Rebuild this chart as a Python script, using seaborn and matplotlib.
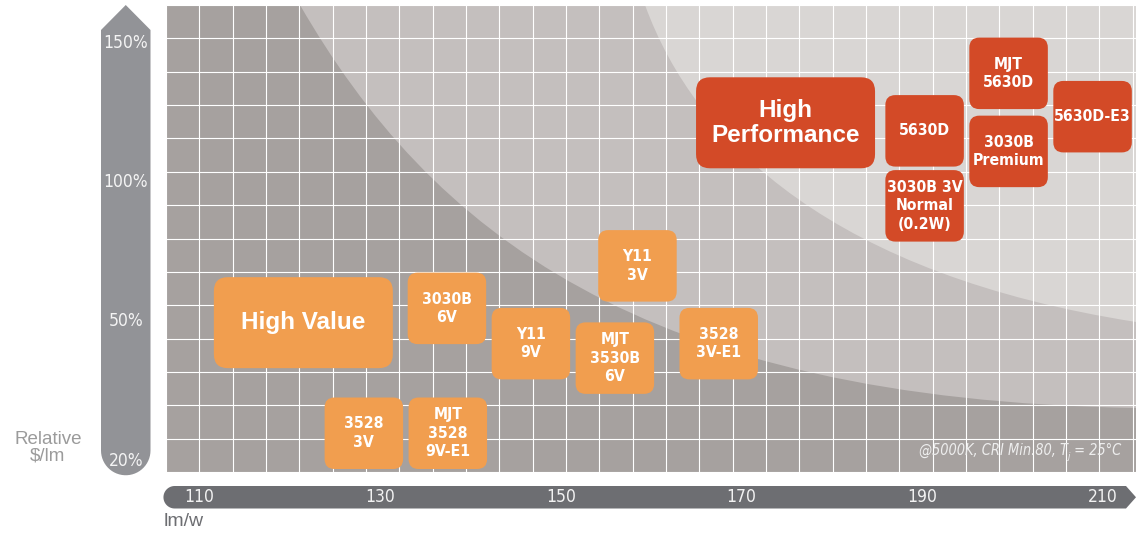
import numpy as np
import pandas as pd
import matplotlib
matplotlib.use("Agg")
import matplotlib.pyplot as plt
from matplotlib.path import Path
from matplotlib.patches import PathPatch
from matplotlib.textpath import TextPath
from matplotlib.font_manager import FontProperties
from matplotlib import font_manager
import seaborn as sns

# LED packages: efficacy (lm/W) vs relative cost ($/lm)
names = ["3528\n3V", "MJT\n3528\n9V-E1", "3030B\n6V", "Y11\n9V", "MJT\n3530B\n6V",
         "Y11\n3V", "3528\n3V-E1", "5630D", "3030B 3V\nNormal\n(0.2W)", "MJT\n5630D",
         "3030B\nPremium", "5630D-E3"]
efficacy = [128.2, 137.5, 137.4, 146.7, 156.0, 158.5, 167.5, 190.3, 190.3, 199.6, 199.6, 208.9]
rel_cost = [25.5, 25.5, 53.8, 44.7, 41.6, 69.1, 44.7, 117.7, 90.7, 138.4, 110.3, 122.8]
tier = ["High Value"] * 7 + ["High Performance"] * 5

# group labels
group_names = ["High Value", "High\nPerformance"]
group_tier = ["High Value", "High Performance"]
group_x = [121.5, 174.9]
group_y = [49.2, 120.6]

x_ticks = [110, 130, 150, 170, 190, 210]
y_ticks = [150, 100, 50, 20]
y_labels = ["150%", "100%", "50%", "20%"]

palette = {"High Value": "#F19E4F", "High Performance": "#D34A27"}

sns.set_style("darkgrid", rc={"axes.facecolor": "#A6A19F", "grid.color": "white",
                              "grid.linewidth": 1.0, "axes.edgecolor": "none"})
plt.rcParams["font.family"] = ["Liberation Sans", "DejaVu Sans"]


# look for a condensed face (the original uses a condensed grotesque)
def _w(f):
    return f.weight if isinstance(f.weight, (int, float)) else font_manager.weight_dict.get(f.weight, 400)


def _cond(f):
    s, n = str(f.stretch).lower(), f.name.lower()
    return ("condensed" in s or "narrow" in n or "condensed" in n) and "extra" not in s and "ultra" not in s


cond = [f for f in font_manager.fontManager.ttflist if _cond(f)]
fam = None
for pref in ["Liberation Sans Narrow", "DejaVu Sans", "Roboto", "Noto Sans", "Open Sans", "Lato", "Inter"]:
    hits = [f for f in cond if f.name.startswith(pref)]
    if hits:
        fam = hits
        break


def cface(bold=False, italic=False):
    if not fam:
        return FontProperties(family="Liberation Sans", weight="bold" if bold else "normal",
                              style="italic" if italic else "normal")
    c = sorted(fam, key=lambda f: (abs(_w(f) - (700 if bold else 400)),
                                   (f.style != "normal") != italic,
                                   str(f.stretch).lower() != "condensed"))
    return FontProperties(fname=c[0].fname)


def fit(text, fp, size, target_px):
    w = TextPath((0, 0), text, size=size, prop=fp).get_extents().width * 100 / 72
    return size * min(1.0, target_px / w) if w > 0 else size


fp_bold = cface(bold=True)
fp_reg = cface()
fp_it = cface(italic=True)
box_size = fit("5630D-E3", fp_bold, 13.5, 75)
xt_size = fit("190", fp_reg, 14, 27)
yt_size = fit("150%", fp_reg, 13.5, 42)
fn_size = fit("@5000K, CRI Min.80, T", fp_it, 11, 150)

W, H = 1136, 535
fig = plt.figure(figsize=(W / 100, H / 100), dpi=100)
pos = [166 / W, 1 - 472 / H, 970 / W, 467 / H]

# decoration layer in pixel coordinates
deco = fig.add_axes([0, 0, 1, 1], zorder=-2)
deco.set_xlim(0, W)
deco.set_ylim(H, 0)
deco.axis("off")

th = np.linspace(0, np.pi, 30)
yarrow = [(101, 30), (125.75, 5), (150.5, 30), (150.5, 450.5)]
yarrow += list(zip(125.75 + 24.75 * np.cos(th), 450.5 + 24.75 * np.sin(th)))
deco.add_patch(plt.Polygon(yarrow, closed=True, fc="#929397", ec="none"))

th2 = np.linspace(np.pi / 2, 3 * np.pi / 2, 30)
xarrow = [(174.7, 486), (1126, 486), (1136, 497.25), (1126, 508.5)]
xarrow += list(zip(174.7 + 11.25 * np.cos(th2), 497.25 + 11.25 * np.sin(th2)))
deco.add_patch(plt.Polygon(xarrow, closed=True, fc="#6D6E72", ec="none"))

deco.text(48, 448, "Relative\n$/lm", ha="center", va="center", color="#9B9B9B",
          fontsize=13.5, linespacing=1.0)
deco.text(164, 522, "lm/w", ha="left", va="center", color="#6D6E72", fontsize=14)

# background grid with shaded zones
bg = fig.add_axes(pos, zorder=-1)
bg.set_xlim(0, 970)
bg.set_ylim(467, 0)
bg.set_xticks(np.arange(0, 971, 33.33))
bg.set_yticks(np.arange(0, 468, 33.36))
bg.tick_params(length=0, labelbottom=False, labelleft=False)
zone1 = Path([(134, 0), (264, 225), (474, 395), (970, 403), (990, 403), (990, -10), (134, -10), (134, 0)],
             [Path.MOVETO, Path.CURVE4, Path.CURVE4, Path.CURVE4, Path.LINETO, Path.LINETO,
              Path.LINETO, Path.CLOSEPOLY])
zone2 = Path([(479, 0), (530, 140), (670, 270), (970, 317), (990, 317), (990, -10), (479, -10), (479, 0)],
             [Path.MOVETO, Path.CURVE4, Path.CURVE4, Path.CURVE4, Path.LINETO, Path.LINETO,
              Path.LINETO, Path.CLOSEPOLY])
bg.add_patch(PathPatch(zone1, fc="#C4BFBE", ec="none", zorder=0.2))
bg.add_patch(PathPatch(zone2, fc="#D9D6D4", ec="none", zorder=0.3))


def rounded_box(hw, hh, r):
    v = [(-hw + r, -hh), (hw - r, -hh), (hw, -hh), (hw, -hh + r), (hw, hh - r), (hw, hh),
         (hw - r, hh), (-hw + r, hh), (-hw, hh), (-hw, hh - r), (-hw, -hh + r), (-hw, -hh),
         (-hw + r, -hh), (-hw + r, -hh)]
    c = [Path.MOVETO, Path.LINETO, Path.CURVE3, Path.CURVE3, Path.LINETO, Path.CURVE3, Path.CURVE3,
         Path.LINETO, Path.CURVE3, Path.CURVE3, Path.LINETO, Path.CURVE3, Path.CURVE3, Path.CLOSEPOLY]
    return Path(v, c)


small_box = rounded_box(0.5, 0.5 * 71.5 / 78.5, 10 / 78.5)
big_box = rounded_box(0.5, 0.5 * 91 / 179, 14 / 179)


def fwd(v):
    v = np.asarray(v, float)
    return np.where(v >= 50, v, 50 - (50 - v) * 1.68)


def inv(u):
    u = np.asarray(u, float)
    return np.where(u >= 50, u, 50 - (50 - u) / 1.68)


# main data layer
ax = fig.add_axes(pos, zorder=1)
ax.set_facecolor("none")
ax.set_yscale("function", functions=(fwd, inv))

df = pd.DataFrame({"name": names, "efficacy": efficacy, "rel_cost": rel_cost, "tier": tier})
gdf = pd.DataFrame({"name": group_names, "efficacy": group_x, "rel_cost": group_y, "tier": group_tier})

sns.scatterplot(data=df, x="efficacy", y="rel_cost", hue="tier", palette=palette,
                marker=small_box, s=(78.5 * 0.72) ** 2, linewidth=0, legend=False, ax=ax, zorder=3)
sns.scatterplot(data=gdf, x="efficacy", y="rel_cost", hue="tier", palette=palette,
                marker=big_box, s=(179 * 0.72) ** 2, linewidth=0, legend=False, ax=ax, zorder=3)

for _, r in df.iterrows():
    ax.text(r.efficacy, r.rel_cost, r["name"], ha="center", va="center", color="white",
            fontproperties=fp_bold, fontsize=box_size, linespacing=1.3, zorder=4)
for _, r in gdf.iterrows():
    ax.text(r.efficacy, r.rel_cost, r["name"], ha="center", va="center", color="white",
            fontsize=17.5, fontweight="bold", linespacing=1.1, zorder=4)

# footnote with subscript j
t3 = ax.text(0.985, 0.03, " = 25°C", transform=ax.transAxes, ha="right", va="bottom",
             color="#EDEDED", fontproperties=fp_it, fontsize=fn_size, zorder=4)
t2 = ax.annotate("j", xy=(0, 0), xycoords=t3, xytext=(0, -2), textcoords="offset points",
                 ha="right", va="bottom", color="#EDEDED", fontproperties=fp_it,
                 fontsize=fn_size * 0.65, zorder=4)
ax.annotate("@5000K, CRI Min.80, T", xy=(0, 0), xycoords=t2, xytext=(0, 2), textcoords="offset points",
            ha="right", va="bottom", color="#EDEDED", fontproperties=fp_it, fontsize=fn_size, zorder=4)

ax.set_xlim(106.29, 213.71)
ax.set_ylim(17.2, 163)
ax.grid(False)
ax.set_xticks(x_ticks)
ax.set_xticklabels([str(t) for t in x_ticks], va="center", color="#F2F2F2",
                   fontproperties=fp_reg, fontsize=xt_size)
ax.set_yticks(y_ticks)
ax.set_yticklabels(y_labels, ha="center", color="#F4F4F4", fontproperties=fp_reg, fontsize=yt_size)
ax.tick_params(axis="x", length=0, pad=18)
ax.tick_params(axis="y", length=0, pad=28.8)
ax.set_xlabel("")
ax.set_ylabel("")
for s in ax.spines.values():
    s.set_visible(False)

fig.savefig("out.png", dpi=100, facecolor="white")
